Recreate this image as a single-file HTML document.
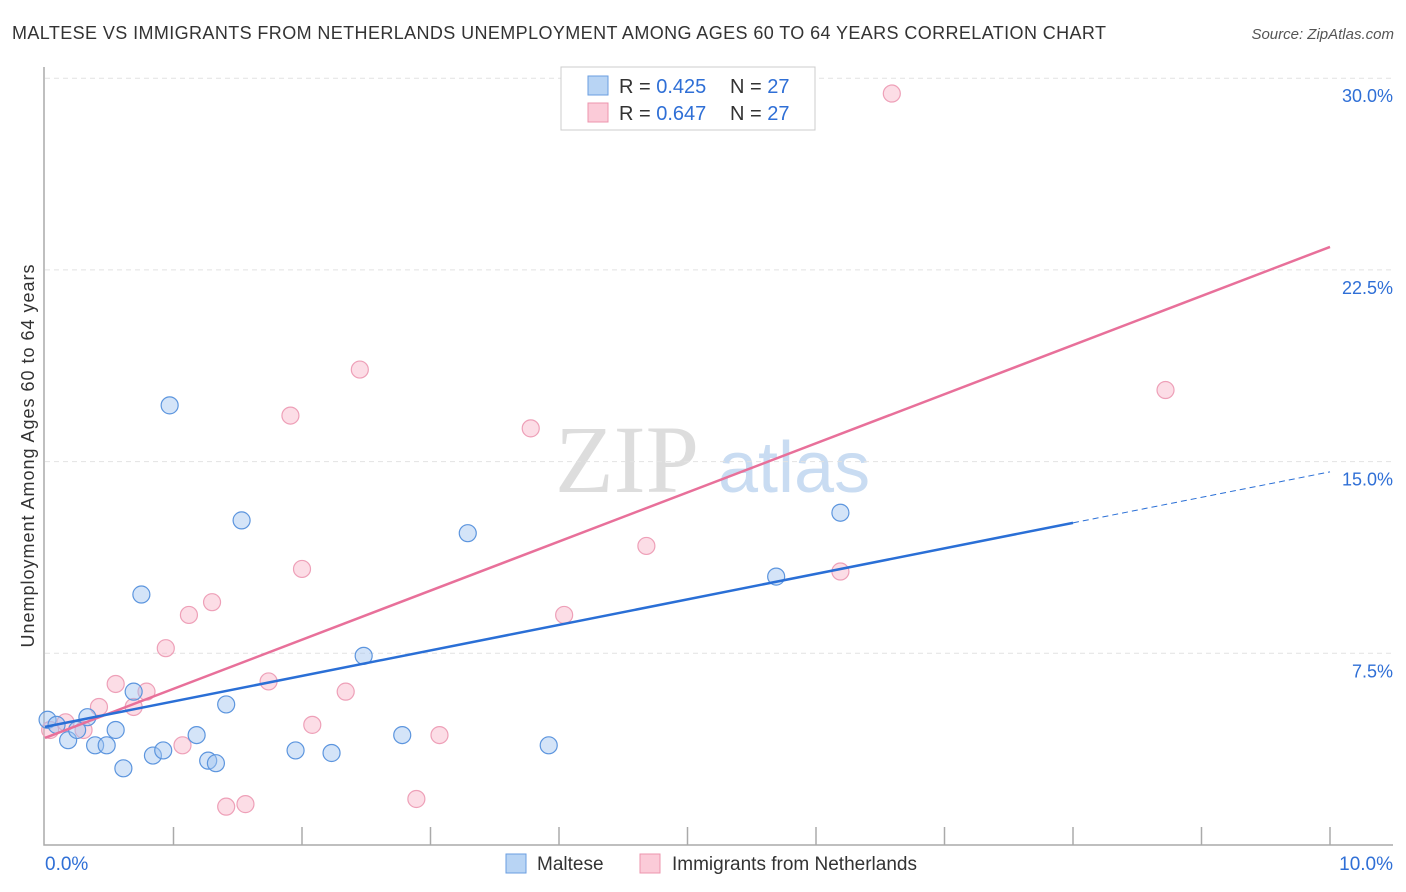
<!DOCTYPE html>
<html><head><meta charset="utf-8"><style>
body{margin:0;background:#fff;font-family:"Liberation Sans",sans-serif}
svg{display:block}
</style></head><body>
<svg id="chart" width="1406" height="892">
<text x="12" y="39" font-size="18" fill="#333" textLength="1094">MALTESE VS IMMIGRANTS FROM NETHERLANDS UNEMPLOYMENT AMONG AGES 60 TO 64 YEARS CORRELATION CHART</text>
<text x="1394" y="39" font-size="15" fill="#555" font-style="italic" text-anchor="end">Source: ZipAtlas.com</text>
<text x="34" y="456" font-size="18" fill="#333" text-anchor="middle" textLength="383" transform="rotate(-90 34 456)">Unemployment Among Ages 60 to 64 years</text>
<text x="555" y="492" font-size="96" fill="#ddd" font-family="Liberation Serif,serif">ZIP</text>
<text x="718" y="492" font-size="72" fill="#c9dcf2">atlas</text>
<g id="grid"></g><g id="axes"></g><g id="pts"></g><g id="lines"></g>
<g>
<rect x="561" y="67" width="254" height="63" fill="#fff" stroke="#ccc"/>
<rect x="588" y="76" width="20" height="19" fill="#b8d4f4" stroke="#6a9ee0"/>
<rect x="588" y="103" width="20" height="19" fill="#fbcbd8" stroke="#ec94ae"/>
<text x="619" y="93" font-size="20" fill="#333">R = <tspan fill="#2f6fd6">0.425</tspan><tspan x="730">N = </tspan><tspan fill="#2f6fd6">27</tspan></text>
<text x="619" y="120" font-size="20" fill="#333">R = <tspan fill="#2f6fd6">0.647</tspan><tspan x="730">N = </tspan><tspan fill="#2f6fd6">27</tspan></text>
</g>
<g>
<rect x="506" y="854" width="20" height="19" fill="#b8d4f4" stroke="#6a9ee0"/>
<text x="537" y="870" font-size="19" fill="#333">Maltese</text>
<rect x="640" y="854" width="20" height="19" fill="#fbcbd8" stroke="#ec94ae"/>
<text x="672" y="870" font-size="19" fill="#333">Immigrants from Netherlands</text>
</g>
</svg>
<script>
const yTicks=[7.5,15,22.5,30];
const yTickLabels=["7.5%","15.0%","22.5%","30.0%"];
const xEndLabels=["0.0%","10.0%"];
const malteseX=[0.02,0.09,0.18,0.25,0.33,0.39,0.48,0.55,0.61,0.69,0.75,0.84,0.92,0.97,1.18,1.27,1.33,1.41,1.53,1.95,2.23,2.48,2.78,3.29,3.92,5.69,6.19];
const malteseY=[4.9,4.7,4.1,4.5,5.0,3.9,3.9,4.5,3.0,6.0,9.8,3.5,3.7,17.2,4.3,3.3,3.2,5.5,12.7,3.7,3.6,7.4,4.3,12.2,3.9,10.5,13.0];
const nethX=[0.04,0.16,0.30,0.42,0.55,0.69,0.79,0.94,1.07,1.12,1.30,1.41,1.56,1.74,1.91,2.00,2.08,2.34,2.45,2.89,3.07,3.78,4.04,4.68,6.19,6.59,8.72];
const nethY=[4.5,4.8,4.5,5.4,6.3,5.4,6.0,7.7,3.9,9.0,9.5,1.5,1.6,6.4,16.8,10.8,4.7,6.0,18.6,1.8,4.3,16.3,9.0,11.7,10.7,29.4,17.8];
const blueLine=[4.62,14.6], blueSolidEnd=8.0;
const pinkLine=[4.19,23.4];
const X=v=>45+v*128.5, Y=v=>845-v*25.56;
const NS="http://www.w3.org/2000/svg";
function mk(tag,attrs,parent){const e=document.createElementNS(NS,tag);for(const k in attrs)e.setAttribute(k,attrs[k]);parent.appendChild(e);return e;}
const grid=document.getElementById('grid'),axes=document.getElementById('axes'),pts=document.getElementById('pts'),lines=document.getElementById('lines');
yTicks.forEach((t,i)=>{
 const l=mk('line',{x1:45,x2:1393,y1:Y(t),y2:Y(t),stroke:'#e2e2e2','stroke-dasharray':'5,4'},grid);
 
 
 const tx=mk('text',{x:1393,y:Y(t)+24,'font-size':18,fill:'#2f6fd6','text-anchor':'end'},grid);
 tx.textContent=yTickLabels[i];
 
 
});
const ax=mk('path',{d:'M44,67 V845 H1393',fill:'none',stroke:'#aaa','stroke-width':1.5},axes);


for(let i=1;i<=10;i++){
 const t=mk('line',{x1:45+i*128.5,x2:45+i*128.5,y1:827,y2:845,stroke:'#aaa','stroke-width':1.5},axes);
 
 
}
[[45,'start',0],[1393,'end',1]].forEach(([x,a,i])=>{
 const t=mk('text',{x:x,y:870,'font-size':19,fill:'#2f6fd6','text-anchor':a},axes);
 t.textContent=xEndLabels[i];
 
 
});
function dots(xs,ys,fill,stroke,name){
 xs.forEach((x,i)=>{
  const c=mk('circle',{cx:X(x),cy:Y(ys[i]),r:8.5,fill:fill,stroke:stroke,'stroke-width':1.2},pts);
  
  
 });
}
dots(nethX,nethY,'rgba(248,180,200,0.45)','#eea0b8','point-netherlands');
dots(malteseX,malteseY,'rgba(160,196,240,0.45)','#5c95de','point-maltese');
const bY=x=>blueLine[0]+(blueLine[1]-blueLine[0])*x/10;
let l=mk('line',{x1:X(0),y1:Y(pinkLine[0]),x2:X(10),y2:Y(pinkLine[1]),stroke:'#e8709a','stroke-width':2.5},lines);


l=mk('line',{x1:X(0),y1:Y(bY(0)),x2:X(blueSolidEnd),y2:Y(bY(blueSolidEnd)),stroke:'#2a6fd6','stroke-width':2.5},lines);


l=mk('line',{x1:X(blueSolidEnd),y1:Y(bY(blueSolidEnd)),x2:X(10),y2:Y(bY(10)),stroke:'#2a6fd6','stroke-width':1,'stroke-dasharray':'6,4'},lines);


</script>
</body></html>
